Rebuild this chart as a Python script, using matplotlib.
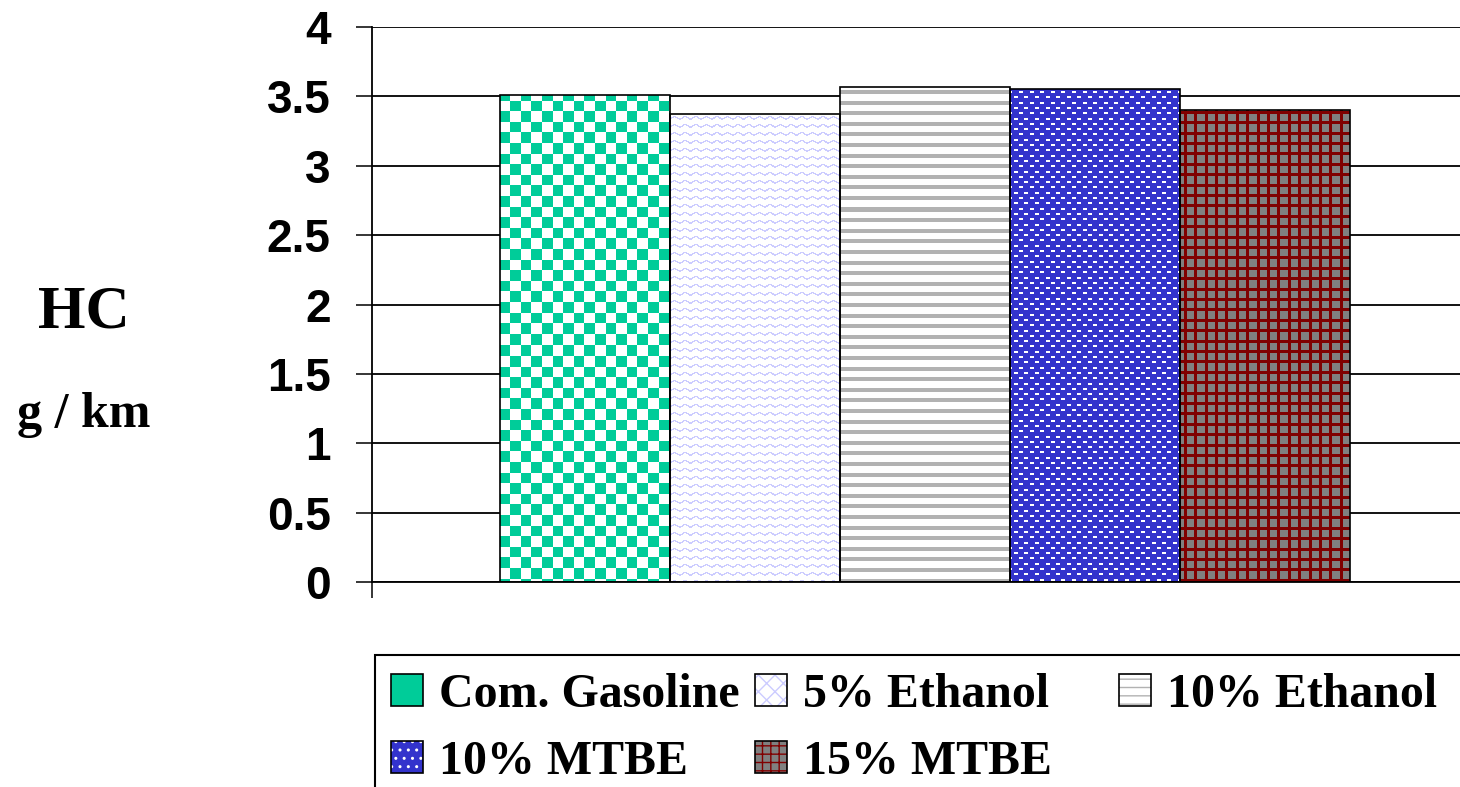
import numpy as np
import matplotlib.pyplot as plt
from matplotlib.patches import Rectangle
from matplotlib.legend_handler import HandlerTuple

fuels = ['Com. Gasoline', '5% Ethanol', '10% Ethanol', '10% MTBE', '15% MTBE']
hc = [3.51, 3.37, 3.57, 3.55, 3.40]

# figure is 1460 x 787 px
W, H = 1460, 787
ax_l, ax_t, ax_b = 371.5, 27.0, 582.0
bar_px = 170.0
first_bar_px = 500.0

fig = plt.figure(figsize=(W / 100, H / 100), dpi=100)
ax = fig.add_axes([ax_l / W, 1 - ax_b / H, (W - ax_l) / W, (ax_b - ax_t) / H])

x = np.arange(len(fuels))
xl = -0.5 - (first_bar_px - ax_l) / bar_px
xr = xl + (W - ax_l) / bar_px

# pixel textures, one per fuel, covering the whole axes area
tw, th = int(W - ax_l), int(ax_b - ax_t)
ii, jj = np.mgrid[0:th, 0:tw]
per = 10.6


def rgba(hexc):
    hexc = hexc.lstrip('#')
    return np.array([int(hexc[k:k + 2], 16) / 255 for k in (0, 2, 4)] + [1.0])


def texture(mask, fg, bg):
    t = np.empty((th, tw, 4))
    t[:] = rgba(bg)
    t[mask] = rgba(fg)
    return t


checker = ((ii // per).astype(int) + (jj // per).astype(int)) % 2 == 0
tri = 3 * np.abs(((jj / per) % 1) * 2 - 1)
wave = ((ii - tri) % 8 < 1.6) & (jj % 2 < 1.5)
stripes = (ii % per) < 4
row = (ii // 5.3).astype(int)
dashes = ((ii % 5.3) < 2) & (((jj + (row % 2) * 5.3) % per) < 4)
grid = ((ii % 10.4) < 3) | ((jj % 10.4) < 3)

textures = [
    texture(checker, '#00cc99', '#ffffff'),
    texture(wave, '#ccccff', '#ffffff'),
    texture(stripes, '#b2b2b2', '#ffffff'),
    texture(dashes, '#ffffff', '#3333cc'),
    texture(grid, '#800000', '#808080'),
]

bars = ax.bar(x, hc, width=1.0, facecolor='none', edgecolor='black',
              linewidth=1.2, zorder=3)
for b, t in zip(bars, textures):
    im = ax.imshow(t, extent=(xl, xr, 0, 4), origin='upper',
                   interpolation='nearest', aspect='auto', zorder=2)
    im.set_clip_path(b)

ax.set_xlim(xl, xr)
ax.set_ylim(0, 4)
ax.set_yticks(np.arange(0, 4.01, 0.5))
ax.set_yticklabels(['0', '0.5', '1', '1.5', '2', '2.5', '3', '3.5', '4'],
                   fontfamily='Liberation Sans', fontweight='bold', fontsize=33)
ax.tick_params(axis='y', direction='out', length=11.5, width=1.1, pad=18)
ax.set_xticks([xl])
ax.set_xticklabels([''])
ax.tick_params(axis='x', direction='out', length=11.5, width=1.1)
ax.yaxis.grid(True, color='black', linewidth=1.3)
ax.set_axisbelow(True)
for s in ['top', 'right']:
    ax.spines[s].set_visible(False)
for s in ['left', 'bottom']:
    ax.spines[s].set_linewidth(1.3)

serif = dict(family='Liberation Serif', weight='bold')
fig.text(84 / W, 1 - 328 / H, 'HC', ha='center', va='baseline', fontsize=44, **serif)
fig.text(84 / W, 1 - 427 / H, 'g / km', ha='center', va='baseline', fontsize=36, **serif)

# legend frame, running off the right and bottom edges
fig.patches.append(Rectangle((375 / W, -0.05), 1.1, 1 - 655 / H + 0.05,
                             transform=fig.transFigure, fill=False,
                             edgecolor='black', linewidth=1.5))


def handle(face, hatch, hcol):
    with plt.rc_context({'hatch.linewidth': 2.0}):
        fill = Rectangle((0, 0), 1, 1, facecolor=face, hatch=hatch,
                         edgecolor=hcol, linewidth=0)
    edge = Rectangle((0, 0), 1, 1, facecolor='none', edgecolor='black', linewidth=1.2)
    return (fill, edge)


handles = [
    handle('#00cc99', None, '#00cc99'),
    handle('#ffffff', 'xx', '#ccccff'),
    handle('#ffffff', '--', '#b2b2b2'),
    handle('#3333cc', '..', '#ffffff'),
    handle('#808080', '++', '#800000'),
]

cols = [(391, [0, 3]), (755, [1, 4]), (1119, [2])]
for cx, idx in cols:
    fig.legend([handles[k] for k in idx], [fuels[k] for k in idx],
               loc='upper left', bbox_to_anchor=(cx / W, 1 - 673 / H),
               bbox_transform=fig.transFigure, frameon=False,
               borderpad=0, borderaxespad=0, handlelength=0.66,
               handleheight=0.64, handletextpad=0.34, labelspacing=0.47,
               handler_map={tuple: HandlerTuple(ndivide=1, pad=0)},
               prop=dict(family='Liberation Serif', weight='bold', size=34.5))

fig.savefig('out.png', dpi=100)
